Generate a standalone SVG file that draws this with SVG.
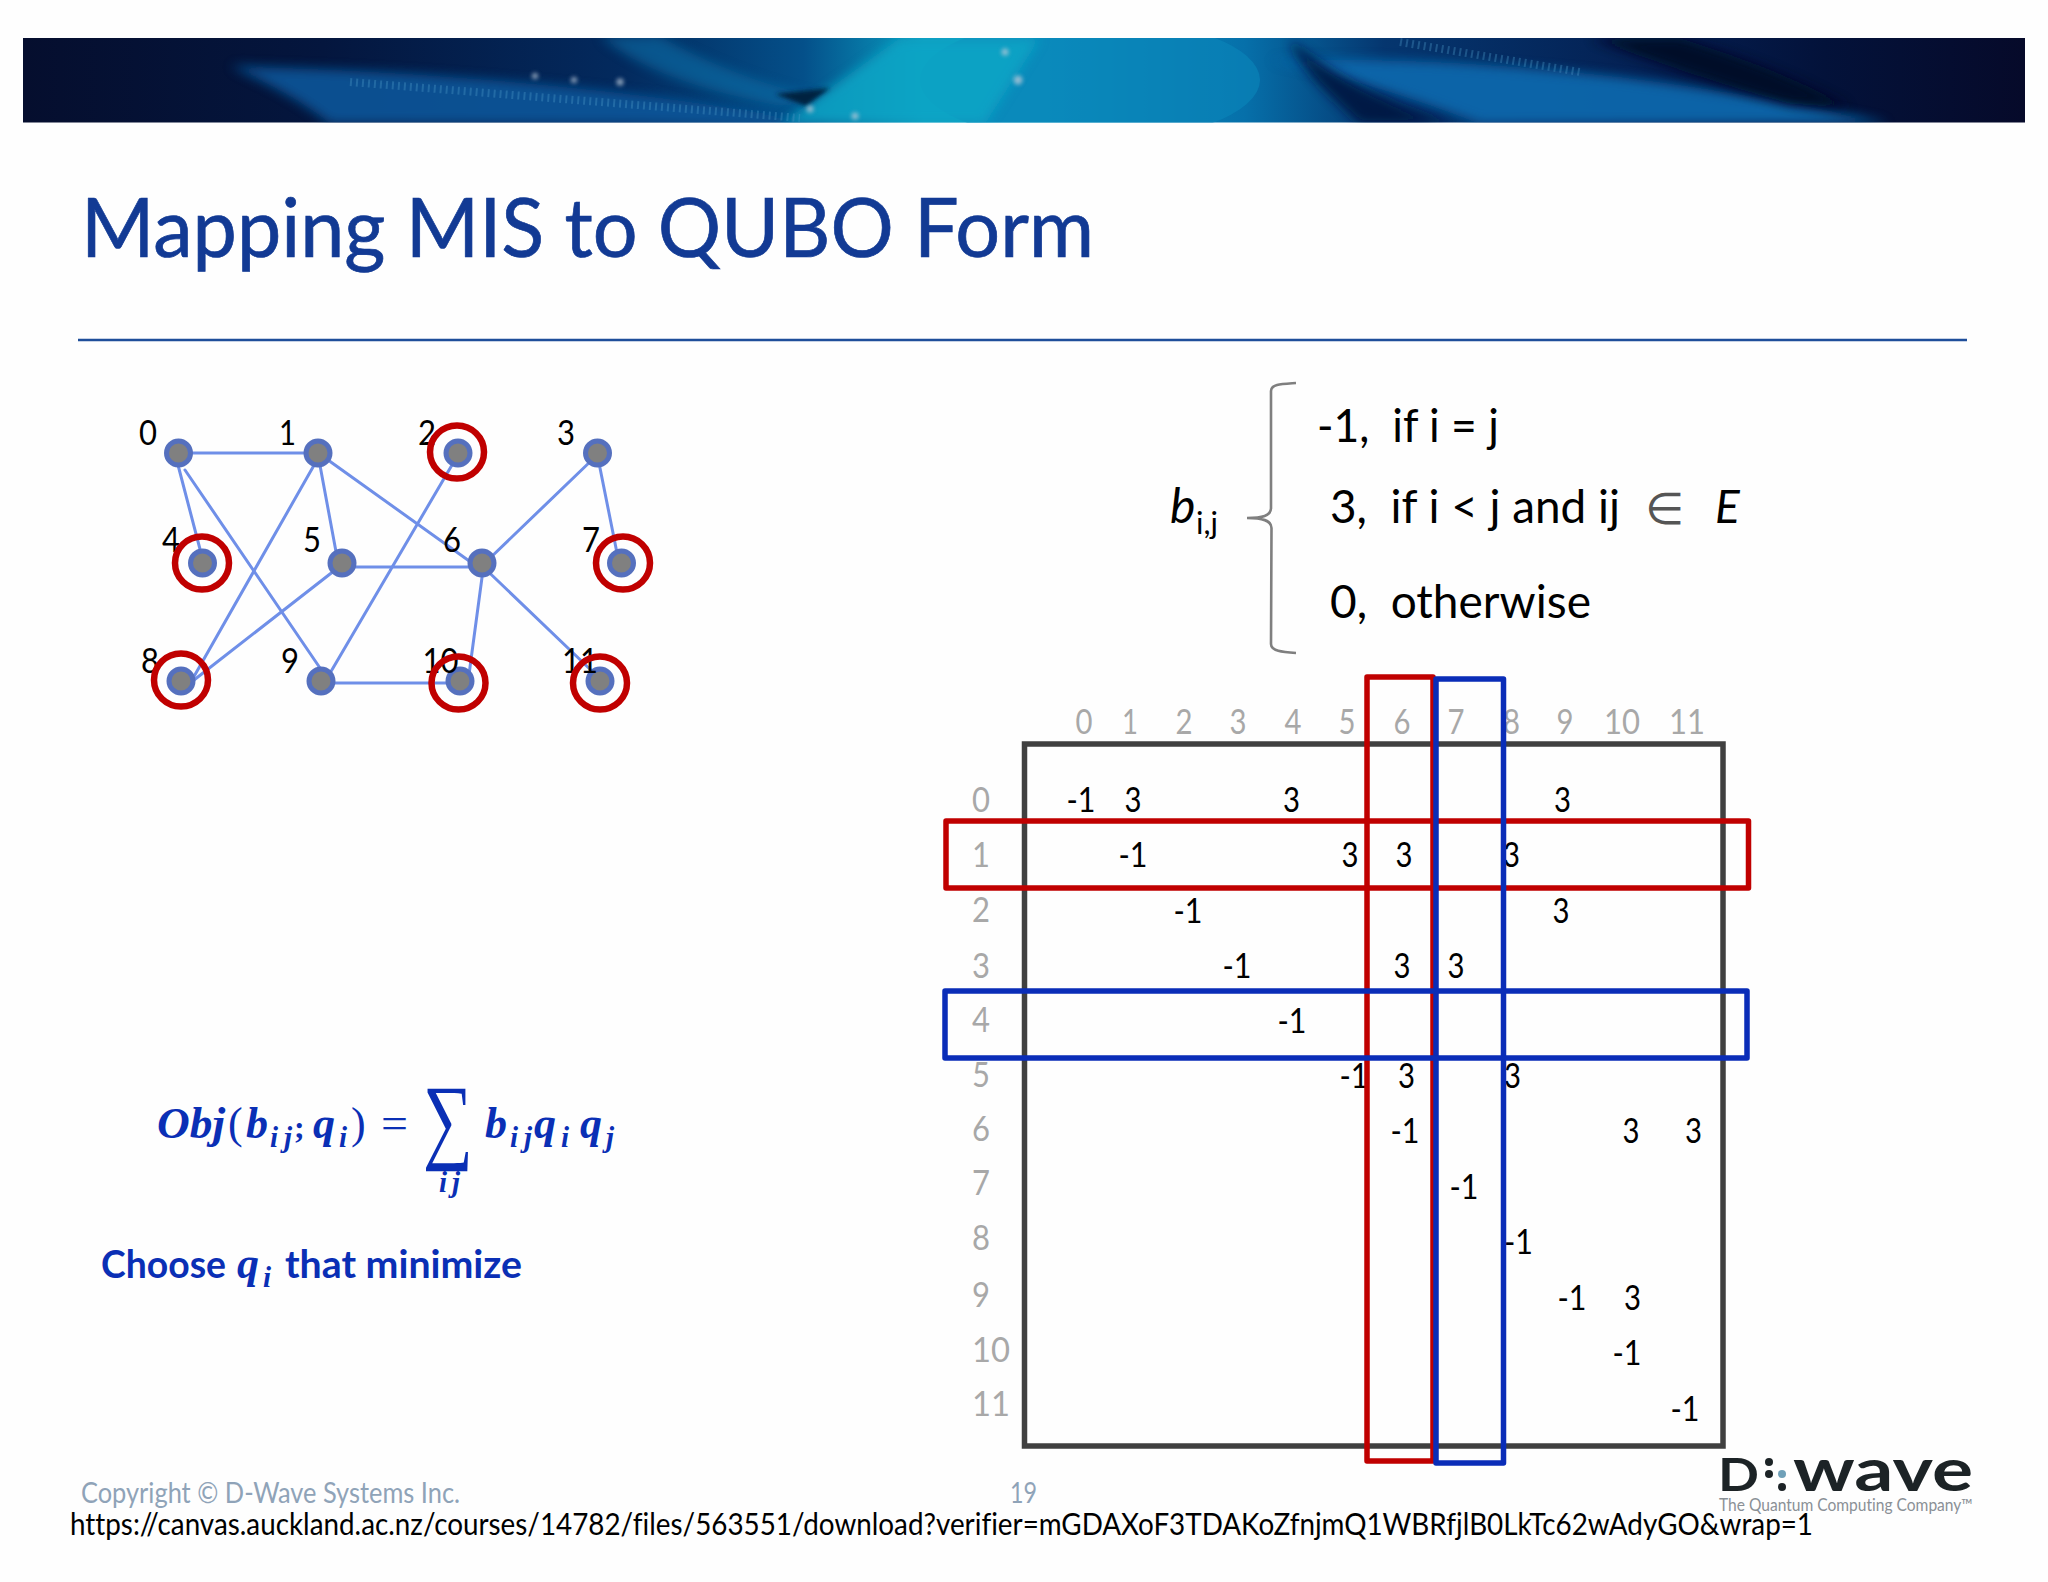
<svg xmlns="http://www.w3.org/2000/svg" width="2048" height="1582" viewBox="0 0 2048 1582">
<style>
text{font-family:"Lato","Carlito","Liberation Sans",sans-serif;fill:#000;font-variant-ligatures:none}
.edge{stroke:#6F8FE8;stroke-width:3;fill:none;stroke-linecap:round}
.dot{fill:#808080;stroke:#5570BE;stroke-width:5}
.ring{fill:none;stroke:#C00000;stroke-width:6.5}
.lab{font-size:35px;text-anchor:middle}
.hd{font-size:35px;fill:#A8A8A8;text-anchor:middle}
.rw{font-size:35px;fill:#A8A8A8}
.v{font-size:35px;text-anchor:middle}
.eq{font-size:46px}
.m{font-family:"Liberation Serif",serif;font-weight:bold;font-style:italic;fill:#0A2FB5}
.big{font-size:44px}.sub{font-size:29px}
.box{fill:none;stroke-width:5.5;stroke-linejoin:round}
</style>
<defs>
<linearGradient id="band" x1="0" x2="1" y1="0" y2="0">
<stop offset="0" stop-color="#050E2E"/><stop offset=".15" stop-color="#04163E"/><stop offset=".3" stop-color="#032A5E"/><stop offset=".39" stop-color="#04508A"/><stop offset=".45" stop-color="#0A9CC0"/><stop offset=".51" stop-color="#0A9AC4"/><stop offset=".61" stop-color="#0670AA"/><stop offset=".68" stop-color="#05366F"/><stop offset=".82" stop-color="#041E50"/><stop offset=".9" stop-color="#03123A"/><stop offset="1" stop-color="#060A2A"/>
</linearGradient>
<filter id="bl" x="-30%" y="-60%" width="160%" height="220%"><feGaussianBlur stdDeviation="6"/></filter>
<filter id="bs" x="-100%" y="-100%" width="300%" height="300%"><feGaussianBlur stdDeviation="2"/></filter>
<clipPath id="bc"><rect x="23" y="38" width="2002" height="84.500"/></clipPath>
</defs>
<rect width="2048" height="1582" fill="#FEFEFE"/>
<g id="header" clip-path="url(#bc)">
<rect x="23" y="38" width="2002" height="85" fill="url(#band)"/>
<path d="M230 66 C420 70 660 90 820 124 L330 124 C300 100 270 85 230 66Z" fill="#07569A" opacity=".9" filter="url(#bl)"/>
<path d="M600 36 L660 36 C700 60 760 85 830 100 L780 106 C700 90 640 70 600 36Z" fill="#0A70A8" opacity=".6" filter="url(#bl)"/>
<ellipse cx="1090" cy="80" rx="170" ry="62" fill="#0A83B8" opacity=".7"/>
<path d="M900 38 L1040 38 L985 124 L780 124 Z" fill="#0AA6C6" opacity=".85" filter="url(#bl)"/>
<path d="M1270 60 C1510 55 1720 85 1890 124 L1480 124 C1420 100 1340 75 1270 60Z" fill="#0A68AC" opacity=".95" filter="url(#bl)"/>
<path d="M1290 40 C1340 80 1390 105 1450 124 L1360 124 C1330 95 1300 70 1290 40Z" fill="#03183F" opacity=".9" filter="url(#bl)"/>
<path d="M1590 38 L1680 38 C1750 60 1800 80 1850 108 L1790 104 C1720 85 1650 60 1590 38Z" fill="#040828" opacity=".95" filter="url(#bl)"/>
<path d="M775 94 L830 88 L806 106 Z" fill="#04203F" filter="url(#bs)"/>
<path d="M350 82 L800 118" stroke="#4C9BC8" stroke-width="8" stroke-dasharray="2 4" fill="none" opacity=".35"/>
<path d="M1400 42 L1580 72" stroke="#4C9BC8" stroke-width="8" stroke-dasharray="2 4" fill="none" opacity=".35"/>
<g fill="#B8C8D8" filter="url(#bs)" opacity=".8"><circle cx="1005" cy="52" r="3.500"/><circle cx="1018" cy="80" r="4.500"/><circle cx="810" cy="109" r="3.500"/><circle cx="855" cy="116" r="3.500"/><circle cx="535" cy="76" r="3"/><circle cx="574" cy="80" r="3"/><circle cx="620" cy="82" r="3.500"/></g>
</g>
<text id="title" x="81" y="257" font-size="81" style="fill:#123A94;stroke:#123A94;stroke-width:.7" textLength="1013" lengthAdjust="spacingAndGlyphs">Mapping MIS to QUBO Form</text>
<line x1="78" y1="340" x2="1967" y2="340" stroke="#1F4E9A" stroke-width="2.400"/>

<g id="connectors">
<line class="edge" x1="182" y1="453" x2="318" y2="453"/>
<line class="edge" x1="178" y1="465" x2="201" y2="553"/>
<line class="edge" x1="185" y1="470" x2="320" y2="668"/>
<line class="edge" x1="317" y1="460" x2="192" y2="680"/>
<line class="edge" x1="319" y1="460" x2="337" y2="557"/>
<line class="edge" x1="328" y1="460" x2="479" y2="568"/>
<line class="edge" x1="452" y1="465" x2="326" y2="680"/>
<line class="edge" x1="594" y1="458" x2="488" y2="560"/>
<line class="edge" x1="599" y1="463" x2="617" y2="553"/>
<line class="edge" x1="356" y1="567" x2="479" y2="567"/>
<line class="edge" x1="339" y1="567" x2="194" y2="680"/>
<line class="edge" x1="483" y1="570" x2="468" y2="682"/>
<line class="edge" x1="486.500" y1="570" x2="594" y2="673"/>
<line class="edge" x1="326" y1="683" x2="454" y2="683"/>
</g>
<g id="node-0"><circle class="dot" cx="178.500" cy="453" r="12"/><text class="lab" x="148" y="445" textLength="18" lengthAdjust="spacingAndGlyphs">0</text></g>
<g id="node-1"><circle class="dot" cx="318" cy="453" r="12"/><text class="lab" x="287.500" y="445" textLength="17" lengthAdjust="spacingAndGlyphs">1</text></g>
<g id="node-2"><circle class="dot" cx="458" cy="453" r="12"/><text class="lab" x="427" y="445" textLength="18" lengthAdjust="spacingAndGlyphs">2</text><ellipse class="ring" cx="457" cy="452" rx="27" ry="26.500"/></g>
<g id="node-3"><circle class="dot" cx="597.500" cy="453" r="12"/><text class="lab" x="566" y="445" textLength="18" lengthAdjust="spacingAndGlyphs">3</text></g>
<g id="node-4"><circle class="dot" cx="202.500" cy="563" r="12"/><text class="lab" x="171" y="552" textLength="18" lengthAdjust="spacingAndGlyphs">4</text><ellipse class="ring" cx="202" cy="563" rx="27" ry="26.500"/></g>
<g id="node-5"><circle class="dot" cx="342" cy="563" r="12"/><text class="lab" x="312" y="552" textLength="18" lengthAdjust="spacingAndGlyphs">5</text></g>
<g id="node-6"><circle class="dot" cx="482" cy="563" r="12"/><text class="lab" x="452" y="552" textLength="18" lengthAdjust="spacingAndGlyphs">6</text></g>
<g id="node-7"><circle class="dot" cx="621.500" cy="563" r="12"/><text class="lab" x="591" y="552" textLength="18" lengthAdjust="spacingAndGlyphs">7</text><ellipse class="ring" cx="623" cy="563" rx="27" ry="26.500"/></g>
<g id="node-8"><circle class="dot" cx="181" cy="681" r="12"/><text class="lab" x="150" y="673" textLength="18" lengthAdjust="spacingAndGlyphs">8</text><ellipse class="ring" cx="181" cy="680" rx="27" ry="26.500"/></g>
<g id="node-9"><circle class="dot" cx="321" cy="681" r="12"/><text class="lab" x="290" y="673" textLength="18" lengthAdjust="spacingAndGlyphs">9</text></g>
<g id="node-10"><circle class="dot" cx="460" cy="681" r="12"/><text class="lab" x="440.500" y="673" textLength="36" lengthAdjust="spacingAndGlyphs">10</text><ellipse class="ring" cx="458.500" cy="683" rx="27" ry="26.500"/></g>
<g id="node-11"><circle class="dot" cx="600" cy="681" r="12"/><text class="lab" x="580" y="673" textLength="36" lengthAdjust="spacingAndGlyphs">11</text><ellipse class="ring" cx="600" cy="683" rx="27" ry="26.500"/></g>

<g id="definition">
<path d="M1296 383 C1282 384 1271 384 1271 391 L1271 508 C1271 516 1262 518 1247 518 C1262 518 1271.500 520 1271.500 528 L1271 644 C1271 651 1282 652 1296 653" fill="none" stroke="#7F7F7F" stroke-width="2.600"/>
<text x="1170" y="523" font-size="48" font-style="italic">b</text>
<text x="1196" y="534" font-size="30" textLength="22" lengthAdjust="spacingAndGlyphs">i,j</text>
<text class="eq" x="1317" y="442" textLength="182" lengthAdjust="spacingAndGlyphs" xml:space="preserve">-1,  if i = j</text>
<text class="eq" x="1330" y="523" textLength="290" lengthAdjust="spacingAndGlyphs" xml:space="preserve">3,  if i &lt; j and ij</text>
<text x="1645" y="524" font-size="44" style="font-family:'DejaVu Sans',sans-serif;fill:#555" textLength="39" lengthAdjust="spacingAndGlyphs">∈</text>
<text x="1715" y="523" font-size="46" font-style="italic">E</text>
<text class="eq" x="1330" y="618" textLength="261" lengthAdjust="spacingAndGlyphs" xml:space="preserve">0,  otherwise</text>
</g>

<g id="matrix">
<rect x="1024.500" y="744" width="698.500" height="702" fill="none" stroke="#404040" stroke-width="5.500"/>
<g id="col-headers">
<text class="hd" x="1084" y="734" textLength="17" lengthAdjust="spacingAndGlyphs">0</text><text class="hd" x="1130" y="734" textLength="16" lengthAdjust="spacingAndGlyphs">1</text><text class="hd" x="1184" y="734" textLength="17" lengthAdjust="spacingAndGlyphs">2</text><text class="hd" x="1238" y="734" textLength="17" lengthAdjust="spacingAndGlyphs">3</text><text class="hd" x="1293" y="734" textLength="17" lengthAdjust="spacingAndGlyphs">4</text><text class="hd" x="1347" y="734" textLength="17" lengthAdjust="spacingAndGlyphs">5</text><text class="hd" x="1402" y="734" textLength="17" lengthAdjust="spacingAndGlyphs">6</text><text class="hd" x="1456" y="734" textLength="17" lengthAdjust="spacingAndGlyphs">7</text><text class="hd" x="1511.500" y="734" textLength="17" lengthAdjust="spacingAndGlyphs">8</text><text class="hd" x="1565" y="734" textLength="17" lengthAdjust="spacingAndGlyphs">9</text><text class="hd" x="1622" y="734" textLength="36" lengthAdjust="spacingAndGlyphs">10</text><text class="hd" x="1687" y="734" textLength="36" lengthAdjust="spacingAndGlyphs">11</text>
</g>
<g id="row-headers">
<text class="rw" x="972" y="812" textLength="18" lengthAdjust="spacingAndGlyphs">0</text><text class="rw" x="972" y="867" textLength="18" lengthAdjust="spacingAndGlyphs">1</text><text class="rw" x="972" y="922" textLength="18" lengthAdjust="spacingAndGlyphs">2</text><text class="rw" x="972" y="978" textLength="18" lengthAdjust="spacingAndGlyphs">3</text><text class="rw" x="972" y="1032" textLength="18" lengthAdjust="spacingAndGlyphs">4</text><text class="rw" x="972" y="1087" textLength="18" lengthAdjust="spacingAndGlyphs">5</text><text class="rw" x="972" y="1141" textLength="18" lengthAdjust="spacingAndGlyphs">6</text><text class="rw" x="972" y="1195" textLength="18" lengthAdjust="spacingAndGlyphs">7</text><text class="rw" x="972" y="1250" textLength="18" lengthAdjust="spacingAndGlyphs">8</text><text class="rw" x="972" y="1307" textLength="18" lengthAdjust="spacingAndGlyphs">9</text><text class="rw" x="972" y="1362" textLength="38" lengthAdjust="spacingAndGlyphs">10</text><text class="rw" x="972" y="1416" textLength="38" lengthAdjust="spacingAndGlyphs">11</text>
</g>
<g id="values">
<text class="v" x="1081" y="812" textLength="29" lengthAdjust="spacingAndGlyphs">-1</text><text class="v" x="1133" y="812" textLength="17" lengthAdjust="spacingAndGlyphs">3</text><text class="v" x="1291.500" y="812" textLength="17" lengthAdjust="spacingAndGlyphs">3</text><text class="v" x="1562.500" y="812" textLength="17" lengthAdjust="spacingAndGlyphs">3</text>
<text class="v" x="1133" y="867" textLength="29" lengthAdjust="spacingAndGlyphs">-1</text><text class="v" x="1350" y="867" textLength="17" lengthAdjust="spacingAndGlyphs">3</text><text class="v" x="1404" y="867" textLength="17" lengthAdjust="spacingAndGlyphs">3</text><text class="v" x="1511.500" y="867" textLength="17" lengthAdjust="spacingAndGlyphs">3</text>
<text class="v" x="1188" y="923" textLength="29" lengthAdjust="spacingAndGlyphs">-1</text><text class="v" x="1561" y="923" textLength="17" lengthAdjust="spacingAndGlyphs">3</text>
<text class="v" x="1237" y="978" textLength="29" lengthAdjust="spacingAndGlyphs">-1</text><text class="v" x="1402" y="978" textLength="17" lengthAdjust="spacingAndGlyphs">3</text><text class="v" x="1456" y="978" textLength="17" lengthAdjust="spacingAndGlyphs">3</text>
<text class="v" x="1292" y="1033" textLength="29" lengthAdjust="spacingAndGlyphs">-1</text>
<text class="v" x="1354" y="1088" textLength="29" lengthAdjust="spacingAndGlyphs">-1</text><text class="v" x="1406.500" y="1088" textLength="17" lengthAdjust="spacingAndGlyphs">3</text><text class="v" x="1512.500" y="1088" textLength="17" lengthAdjust="spacingAndGlyphs">3</text>
<text class="v" x="1405" y="1143" textLength="29" lengthAdjust="spacingAndGlyphs">-1</text><text class="v" x="1631" y="1143" textLength="17" lengthAdjust="spacingAndGlyphs">3</text><text class="v" x="1693.500" y="1143" textLength="17" lengthAdjust="spacingAndGlyphs">3</text>
<text class="v" x="1464" y="1199" textLength="29" lengthAdjust="spacingAndGlyphs">-1</text>
<text class="v" x="1518.500" y="1254" textLength="29" lengthAdjust="spacingAndGlyphs">-1</text>
<text class="v" x="1572" y="1310" textLength="29" lengthAdjust="spacingAndGlyphs">-1</text><text class="v" x="1632.500" y="1310" textLength="17" lengthAdjust="spacingAndGlyphs">3</text>
<text class="v" x="1627" y="1365" textLength="29" lengthAdjust="spacingAndGlyphs">-1</text>
<text class="v" x="1685" y="1421" textLength="29" lengthAdjust="spacingAndGlyphs">-1</text>
</g>
<rect class="box" x="1367" y="677" width="66" height="784" stroke="#C00000"/>
<rect class="box" x="946" y="821" width="802.500" height="67" stroke="#C00000"/>
<rect class="box" x="1436" y="679" width="67.500" height="784" stroke="#0A2DB8"/>
<rect class="box" x="945" y="991" width="802" height="67" stroke="#0A2DB8"/>
</g>

<g id="formula">
<text class="m big" x="157" y="1138" textLength="68" lengthAdjust="spacingAndGlyphs">Obj</text>
<text class="m big" x="228" y="1138" style="font-style:normal;font-weight:normal">(</text>
<text class="m big" x="246" y="1138">b</text>
<text class="m sub" x="270" y="1147" textLength="22" lengthAdjust="spacing">ij</text>
<text class="m" x="294" y="1138" font-size="32" style="font-style:normal">;</text>
<text class="m big" x="313" y="1138">q</text>
<text class="m sub" x="339" y="1147">i</text>
<text class="m big" x="351" y="1138" style="font-style:normal;font-weight:normal">)</text>
<text class="m big" x="381" y="1138" style="font-style:normal;font-weight:normal" textLength="27" lengthAdjust="spacingAndGlyphs">=</text>
<text class="m" x="423" y="1151" font-size="95" style="font-style:normal;font-weight:normal" textLength="50" lengthAdjust="spacingAndGlyphs">∑</text>
<text class="m sub" x="439" y="1192" textLength="21" lengthAdjust="spacing">ij</text>
<text class="m big" x="485" y="1138">b</text>
<text class="m sub" x="510" y="1147" textLength="22" lengthAdjust="spacing">ij</text>
<text class="m big" x="534" y="1138">q</text>
<text class="m sub" x="561" y="1147">i</text>
<text class="m big" x="580" y="1138">q</text>
<text class="m sub" x="606" y="1147">j</text>
<text x="101" y="1278" font-size="39" font-weight="700" style="fill:#0A2FB5" textLength="125" lengthAdjust="spacingAndGlyphs">Choose</text>
<text class="m big" x="237" y="1278">q</text>
<text class="m sub" x="263" y="1287">i</text>
<text x="285" y="1278" font-size="39" font-weight="700" style="fill:#0A2FB5" textLength="237" lengthAdjust="spacingAndGlyphs">that minimize</text>
</g>

<g id="footer">
<text x="81" y="1503" font-size="28" style="fill:#8FA3B8" textLength="379" lengthAdjust="spacingAndGlyphs">Copyright © D-Wave Systems Inc.</text>
<text x="1010" y="1503" font-size="28" style="fill:#8FA3B8" textLength="27" lengthAdjust="spacingAndGlyphs">19</text>
<text x="70" y="1535" font-size="31" textLength="1743" lengthAdjust="spacingAndGlyphs">https://canvas.auckland.ac.nz/courses/14782/files/563551/download?verifier=mGDAXoF3TDAKoZfnjmQ1WBRfjlB0LkTc62wAdyGO&amp;wrap=1</text>
</g>

<g id="logo">
<text x="1718" y="1491" font-size="46" font-weight="700" style="fill:#1C2326" textLength="41" lengthAdjust="spacingAndGlyphs">D</text>
<circle cx="1769" cy="1462" r="4" fill="#1C2326"/><circle cx="1769" cy="1474" r="4" fill="#1C2326"/><circle cx="1782" cy="1474" r="4" fill="#6FA0B8"/><circle cx="1782" cy="1487" r="4" fill="#1C2326"/>
<text x="1793" y="1491" font-size="60" font-weight="700" style="fill:#1C2326" textLength="180" lengthAdjust="spacingAndGlyphs">wave</text>
<text x="1719" y="1511" font-size="17" style="fill:#8A9096" textLength="254" lengthAdjust="spacingAndGlyphs">The Quantum Computing Company™</text>
</g>
</svg>
